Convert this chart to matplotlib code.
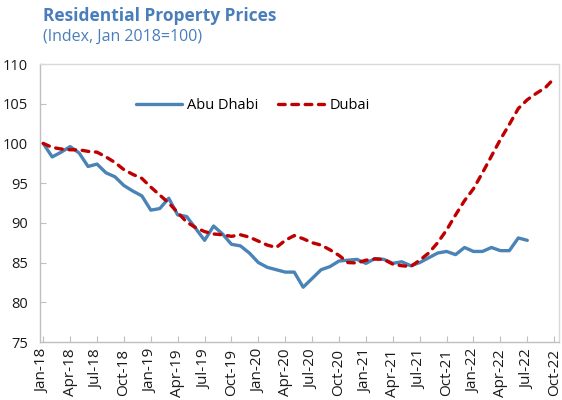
import matplotlib.pyplot as plt
import numpy as np

# ---------------- data (monthly index, Jan 2018 = 100) ----------------
tick_labels = ['Jan-18', 'Apr-18', 'Jul-18', 'Oct-18', 'Jan-19', 'Apr-19', 'Jul-19',
               'Oct-19', 'Jan-20', 'Apr-20', 'Jul-20', 'Oct-20', 'Jan-21', 'Apr-21',
               'Jul-21', 'Oct-21', 'Jan-22', 'Apr-22', 'Jul-22', 'Oct-22']

# Jan-18 .. Jul-22
abu_dhabi = [100.0, 98.3, 98.9, 99.6, 98.8, 97.1, 97.4, 96.3, 95.8, 94.7,
             94.0, 93.4, 91.6, 91.8, 93.1, 91.0, 90.8, 89.3, 87.8, 89.6,
             88.6, 87.3, 87.1, 86.2, 85.0, 84.4, 84.1, 83.8, 83.8, 81.9,
             83.0, 84.1, 84.5, 85.2, 85.3, 85.4, 84.9, 85.5, 85.4, 84.9,
             85.1, 84.6, 85.0, 85.6, 86.2, 86.4, 86.0, 86.9, 86.4, 86.4,
             86.9, 86.5, 86.5, 88.1, 87.8]

# Jan-18 .. Oct-22
dubai = [100.0, 99.5, 99.3, 99.2, 99.2, 99.0, 98.9, 98.3, 97.6, 96.7,
         96.1, 95.6, 94.5, 93.5, 92.5, 91.3, 90.1, 89.4, 88.9, 88.6,
         88.5, 88.3, 88.5, 88.2, 87.7, 87.2, 86.9, 87.8, 88.4, 88.0,
         87.5, 87.2, 86.6, 85.9, 85.0, 84.95, 85.3, 85.45, 85.4, 84.8,
         84.6, 84.5, 85.3, 86.2, 87.5, 89.1, 91.0, 92.8, 94.3, 96.3,
         98.4, 100.5, 102.4, 104.4, 105.5, 106.3, 107.0, 108.2]

# ---------------- style ----------------
plt.rcParams['font.family'] = ['Open Sans', 'DejaVu Sans']
plt.rcParams['font.size'] = 10

blue = '#4A83B5'
red = '#C00000'
title_col = '#4A7EBB'
grey = '#BFBFBF'

fig = plt.figure(figsize=(5.62, 4.0), dpi=100)
ax = fig.add_axes([0.072, 0.145, 0.923, 0.695])

x_ad = np.arange(len(abu_dhabi))
x_db = np.arange(len(dubai))

ax.plot(x_ad, abu_dhabi, color=blue, linewidth=2.4, label='Abu Dhabi',
        solid_capstyle='round', solid_joinstyle='round')
ax.plot(x_db, dubai, color=red, linewidth=2.4, label='Dubai',
        dashes=(2.0, 2.0), dash_capstyle='round', dash_joinstyle='round')

ax.set_xlim(-0.31, 57.56)
ax.set_ylim(75, 110)
ax.set_yticks(np.arange(75, 111, 5))
ax.set_xticks(np.arange(0, 3 * len(tick_labels), 3))
ax.set_xticklabels(tick_labels, rotation=90)

for side in ['left', 'bottom']:
    ax.spines[side].set_color(grey)
    ax.spines[side].set_linewidth(1.0)
for side in ['top', 'right']:
    ax.spines[side].set_color('#D9D9D9')
    ax.spines[side].set_linewidth(1.0)

ax.tick_params(axis='y', direction='in', length=4, color=grey, pad=9,
               labelsize=10.5, labelcolor='#1A1A1A')
ax.tick_params(axis='x', direction='in', length=4, color=grey, pad=5,
               labelsize=11, labelcolor='#1A1A1A')

ax.legend(loc='center', bbox_to_anchor=(0.409, 0.849), ncol=2, frameon=False,
          fontsize=10.5, handlelength=3.2, handletextpad=0.35, columnspacing=1.3)

fig.text(0.0765, 0.96, 'Residential Property Prices', color=title_col,
         fontsize=12.5, fontweight='bold', va='center', ha='left')
fig.text(0.0765, 0.907, '(Index, Jan 2018=100)', color=title_col,
         fontsize=11.5, va='center', ha='left')

fig.savefig('out.png', dpi=100)
